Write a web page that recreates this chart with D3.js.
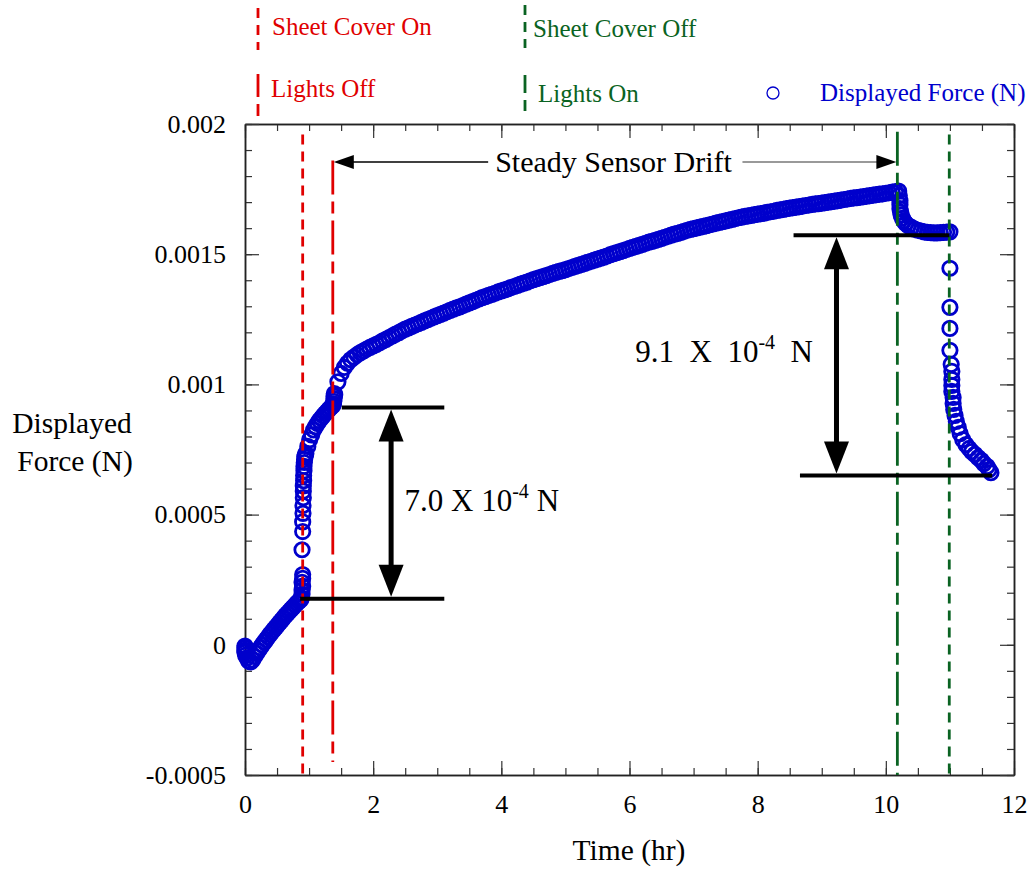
<!DOCTYPE html>
<html>
<head>
<meta charset="utf-8">
<script src="https://cdn.jsdelivr.net/npm/d3@7"></script>
<style>
  body { margin: 0; background: #fff; }
  text { font-family: "Liberation Serif", "Times New Roman", serif; white-space: pre; }
</style>
</head>
<body>
<div id="chart"></div>
<script>
// force values are in micro-newtons (1e-6 N), time in hours

// first points stacked at t = 0
const startTime = [0, 0, 0, 0, 0.01];
const startForce = [-5, -12, -20, -30, -40];

// ramp before the sheet cover goes on, every 0.03 hr from t = 0
const rampStart = 0, rampStep = 0.03;
const rampForce = [-25, -50, -63, -66, -58, -45, -33, -22, -11, 0,
    10, 20, 30, 40, 49, 58, 67, 76, 85, 94,
    103, 112, 120, 128, 136, 144, 152, 160, 167, 173];

// jump when the sheet cover goes on
const coverOnTime = [0.88, 0.89, 0.89, 0.90, 0.89, 0.90, 0.90, 0.89, 0.90, 0.90, 0.905, 0.905,
    0.91, 0.91, 0.91, 0.915, 0.915, 0.92, 0.92, 0.925, 0.93, 0.935, 0.94];
const coverOnForce = [180, 195, 210, 225, 240, 255, 270, 365, 435, 472, 505, 535,
    565, 590, 610, 630, 650, 668, 685, 700, 712, 722, 728];

// settling until the lights go off, every 0.03 hr from 0.95
const settleStart = 0.95, settleStep = 0.03;
const settleForce = [735, 762, 788, 806, 825, 838, 850, 861, 870, 879, 888, 896, 904, 912, 918];

// step when the lights go off
const lightsOffTime = [1.38, 1.385, 1.39, 1.39, 1.395];
const lightsOffForce = [925, 935, 945, 955, 965];

// steady drift, every 0.05 hr from 1.40
const driftStart = 1.40, driftStep = 0.05;
const driftForce = [960, 1010, 1042, 1065, 1082, 1095, 1105, 1114, 1122, 1129,
    1136, 1142, 1148, 1154, 1160, 1167, 1173, 1180, 1186, 1193,
    1199, 1206, 1212, 1217, 1223, 1228, 1233, 1238, 1244, 1249,
    1254, 1259, 1264, 1269, 1274, 1279, 1284, 1289, 1294, 1298,
    1303, 1308, 1313, 1318, 1323, 1328, 1333, 1337, 1342, 1346,
    1350, 1355, 1359, 1363, 1367, 1372, 1376, 1380, 1385, 1389,
    1393, 1398, 1402, 1406, 1410, 1414, 1418, 1422, 1426, 1430,
    1434, 1437, 1441, 1445, 1449, 1453, 1457, 1461, 1465, 1469,
    1473, 1477, 1481, 1485, 1489, 1493, 1498, 1502, 1506, 1510,
    1514, 1518, 1522, 1526, 1530, 1534, 1538, 1542, 1546, 1549,
    1553, 1557, 1561, 1565, 1569, 1573, 1577, 1580, 1584, 1588,
    1592, 1595, 1598, 1601, 1604, 1607, 1610, 1613, 1616, 1619,
    1622, 1625, 1628, 1631, 1634, 1637, 1640, 1642, 1645, 1647,
    1649, 1652, 1654, 1656, 1658, 1661, 1663, 1665, 1668, 1670,
    1672, 1675, 1677, 1679, 1681, 1683, 1685, 1687, 1689, 1691,
    1693, 1694, 1696, 1698, 1700, 1702, 1704, 1706, 1708, 1710,
    1712, 1714, 1716, 1717, 1719, 1721, 1723, 1725, 1727, 1729,
    1731, 1732, 1734, 1736, 1738, 1740, 1742];

// drop when the lights come on
const lightsOnTime = [10.21, 10.22, 10.22, 10.22, 10.23, 10.24, 10.26, 10.28, 10.31, 10.35, 10.40];
const lightsOnForce = [1725, 1705, 1690, 1675, 1662, 1650, 1638, 1628, 1618, 1610, 1603];

// plateau, every 0.05 hr from 10.45
const plateauStart = 10.45, plateauStep = 0.05;
const plateauForce = [1596, 1592, 1589, 1586, 1584, 1583, 1582, 1582, 1583, 1584, 1585, 1586];

// drop when the sheet cover comes off
const coverOffTime = [11.00, 11.00, 11.00, 11.00, 11.02, 11.03, 11.03, 11.03, 11.03, 11.05, 11.05, 11.06,
    11.08, 11.10, 11.13, 11.16, 11.20, 11.25, 11.30, 11.34, 11.39, 11.44, 11.49, 11.53, 11.58, 11.61, 11.64];
const coverOffForce = [1446, 1296, 1215, 1131, 1077, 1050, 1019, 996, 973, 950, 927, 904,
    881, 858, 835, 811, 788, 769, 754, 742, 731, 719, 708, 696, 685, 673, 661];

// event lines: time, top and bottom of the line (uN)
const eventNames = ["Sheet Cover On", "Lights Off", "Lights On", "Sheet Cover Off"];
const eventTimes = [0.90, 1.37, 10.18, 10.99];
const eventTop = [1960, 1860, 1970, 1960];
const eventBottom = [-500, -450, -500, -500];

// measured steps: [t start, t end, level]
const stepLines = [[1.51, 3.11, 911], [0.86, 3.11, 177], [8.56, 10.99, 1573], [8.66, 11.66, 650]];
const stepArrowTime = [2.28, 9.23];
const stepArrowTop = [911, 1573];
const stepArrowBottom = [177, 650];
const stepLabels = ["7.0 X 10", "9.1  X  10"];
const stepUnits = [" N", "  N"];
const stepLabelTime = [2.49, 6.09];
const stepLabelForce = [512, 1085];

// drift arrow
const driftArrowFrom = 1.37, driftArrowTo = 10.18, driftArrowLevel = 1854, driftLabelTime = 5.75;

const xMajor = [0, 2, 4, 6, 8, 10, 12];
const yMajor = [-0.0005, 0, 0.0005, 0.001, 0.0015, 0.002];
const yLabels = ["-0.0005", "0", "0.0005", "0.001", "0.0015", "0.002"];

const red = "#e00000", green = "#0a6322", blue = "#0000cc";
const shortDash = "10,7", longDash = "34,7,12,7";

// ---- drawing
const svg = d3.select("#chart").append("svg")
    .attr("width", 1034)
    .attr("height", 871);

const x = d3.scaleLinear().domain([0, 12]).range([245, 1014]);
const y = d3.scaleLinear().domain([-0.0005, 0.002]).range([775, 124]);
const yu = v => y(v * 1e-6);

function grid(start, step, values) {
    return values.map((f, i) => ({t: start + i * step, f: f}));
}
function pairs(times, values) {
    return values.map((f, i) => ({t: times[i], f: f}));
}

const points = [].concat(
    pairs(startTime, startForce),
    grid(rampStart, rampStep, rampForce),
    pairs(coverOnTime, coverOnForce),
    grid(settleStart, settleStep, settleForce),
    pairs(lightsOffTime, lightsOffForce),
    grid(driftStart, driftStep, driftForce),
    pairs(lightsOnTime, lightsOnForce),
    grid(plateauStart, plateauStep, plateauForce),
    pairs(coverOffTime, coverOffForce)
);

// axes, ticks pointing inward on all four sides
function styleAxis(g) {
    g.selectAll("path").attr("stroke", "#222").attr("stroke-width", 1.5);
    g.selectAll("line").attr("stroke", "#333").attr("stroke-width", 1.2);
    g.selectAll("text").attr("fill", "#000").style("font-size", "26px")
        .style("font-family", "'Liberation Serif', serif");
}
const xMinor = d3.range(0, 12.01, 0.5);
const yMinor = d3.range(-5, 20.01, 1).map(d => d * 0.0001);

svg.append("g").attr("transform", "translate(0,775)")
    .call(d3.axisBottom(x).tickValues(xMinor).tickSize(-7).tickSizeOuter(0).tickFormat(""))
    .call(styleAxis);
svg.append("g").attr("transform", "translate(0,775)")
    .call(d3.axisBottom(x).tickValues(xMajor).tickSize(-14).tickSizeOuter(0).tickPadding(20).tickFormat(d3.format("d")))
    .call(styleAxis);
svg.append("g").attr("transform", "translate(0,124)")
    .call(d3.axisTop(x).tickValues(xMinor).tickSize(-7).tickSizeOuter(0).tickFormat(""))
    .call(styleAxis);
svg.append("g").attr("transform", "translate(0,124)")
    .call(d3.axisTop(x).tickValues(xMajor).tickSize(-14).tickSizeOuter(0).tickFormat(""))
    .call(styleAxis);
svg.append("g").attr("transform", "translate(245,0)")
    .call(d3.axisLeft(y).tickValues(yMinor).tickSize(-7).tickSizeOuter(0).tickFormat(""))
    .call(styleAxis);
svg.append("g").attr("transform", "translate(245,0)")
    .call(d3.axisLeft(y).tickValues(yMajor).tickSize(-14).tickSizeOuter(0).tickPadding(19)
        .tickFormat((d, i) => yLabels[i]))
    .call(styleAxis);
svg.append("g").attr("transform", "translate(1014,0)")
    .call(d3.axisRight(y).tickValues(yMinor).tickSize(-7).tickSizeOuter(0).tickFormat(""))
    .call(styleAxis);
svg.append("g").attr("transform", "translate(1014,0)")
    .call(d3.axisRight(y).tickValues(yMajor).tickSize(-14).tickSizeOuter(0).tickFormat(""))
    .call(styleAxis);

// axis titles
svg.append("text").attr("x", 629).attr("y", 860).attr("text-anchor", "middle")
    .style("font-size", "29.5px").text("Time (hr)");
svg.append("text").attr("x", 72).attr("y", 433).attr("text-anchor", "middle")
    .style("font-size", "29.5px").text("Displayed");
svg.append("text").attr("x", 75).attr("y", 471).attr("text-anchor", "middle")
    .style("font-size", "29.5px").text("Force (N)");

// data points (the logger's dense sampling merges them into a solid band)
svg.append("g").selectAll("circle")
    .data(points)
    .enter()
    .append("circle")
    .attr("cx", d => x(d.t))
    .attr("cy", d => yu(d.f))
    .attr("r", 7.2)
    .attr("fill", "none")
    .attr("stroke", blue)
    .attr("stroke-width", 2.8);

// event lines
const eventColor = [red, red, green, green];
const eventDash = [shortDash, longDash, longDash, shortDash];
svg.append("g").selectAll("line")
    .data(eventTimes)
    .enter()
    .append("line")
    .attr("x1", d => x(d)).attr("x2", d => x(d))
    .attr("y1", (d, i) => yu(eventTop[i]))
    .attr("y2", (d, i) => yu(eventBottom[i]))
    .attr("stroke", (d, i) => eventColor[i])
    .attr("stroke-width", 2.8)
    .attr("stroke-dasharray", (d, i) => eventDash[i]);

// step marker lines
svg.append("g").selectAll("line")
    .data(stepLines)
    .enter()
    .append("line")
    .attr("x1", d => x(d[0])).attr("x2", d => x(d[1]))
    .attr("y1", d => yu(d[2])).attr("y2", d => yu(d[2]))
    .attr("stroke", "#000")
    .attr("stroke-width", 4);

// double arrows between the step levels
function arrowHead(px, py, dir, len, half) {
    // dir: +1 points down, -1 points up
    return `M${px},${py}L${px - half},${py - dir * len}L${px + half},${py - dir * len}Z`;
}
function arrowHeadH(px, py, dir, len, half) {
    // dir: +1 points right, -1 points left
    return `M${px},${py}L${px - dir * len},${py - half}L${px - dir * len},${py + half}Z`;
}
stepArrowTime.forEach((t, i) => {
    const px = x(t), top = yu(stepArrowTop[i]), bot = yu(stepArrowBottom[i]);
    svg.append("line").attr("x1", px).attr("x2", px)
        .attr("y1", top + 20).attr("y2", bot - 20)
        .attr("stroke", "#000").attr("stroke-width", 5);
    svg.append("path").attr("d", arrowHead(px, top + 2, -1, 32, 12.5)).attr("fill", "#000");
    svg.append("path").attr("d", arrowHead(px, bot - 2, 1, 32, 12.5)).attr("fill", "#000");

    const label = svg.append("text")
        .attr("x", x(stepLabelTime[i]))
        .attr("y", yu(stepLabelForce[i]))
        .style("font-size", "31px");
    label.append("tspan").text(stepLabels[i]);
    label.append("tspan").attr("dy", -13).style("font-size", "20px").text("-4");
    label.append("tspan").attr("dy", 13).text(stepUnits[i]);
});

// steady drift arrow
const dy0 = yu(driftArrowLevel);
const driftText = svg.append("text")
    .attr("x", x(driftLabelTime)).attr("y", dy0 + 10)
    .attr("text-anchor", "middle")
    .style("font-size", "30px")
    .text("Steady Sensor Drift");
const bb = driftText.node().getBBox();
svg.append("line").attr("x1", x(driftArrowFrom) + 15).attr("x2", bb.x - 7)
    .attr("y1", dy0).attr("y2", dy0).attr("stroke", "#000").attr("stroke-width", 1.5);
svg.append("line").attr("x1", bb.x + bb.width + 10).attr("x2", x(driftArrowTo) - 15)
    .attr("y1", dy0).attr("y2", dy0).attr("stroke", "#777").attr("stroke-width", 1.5);
svg.append("path").attr("d", arrowHeadH(x(driftArrowFrom) + 1, dy0, -1, 20, 7)).attr("fill", "#000");
svg.append("path").attr("d", arrowHeadH(x(driftArrowTo) - 1, dy0, 1, 20, 7)).attr("fill", "#000");

// legend above the plot
const legendX = [258, 258, 525, 525];
const legendY = [8, 74, 75, 5];
const legendLen = [42, 42, 36, 43];
const legendOffset = [0, 11, 16, 0];
const legendTextX = [272, 271, 538, 533];
const legendTextY = [35, 97, 102, 37];
eventNames.forEach((name, i) => {
    svg.append("line")
        .attr("x1", legendX[i]).attr("x2", legendX[i])
        .attr("y1", legendY[i]).attr("y2", legendY[i] + legendLen[i])
        .attr("stroke", eventColor[i]).attr("stroke-width", 2.8)
        .attr("stroke-dasharray", eventDash[i])
        .attr("stroke-dashoffset", legendOffset[i]);
    svg.append("text")
        .attr("x", legendTextX[i]).attr("y", legendTextY[i])
        .attr("fill", eventColor[i])
        .style("font-size", "25px")
        .text(name);
});
svg.append("circle").attr("cx", 773).attr("cy", 93).attr("r", 6)
    .attr("fill", "none").attr("stroke", blue).attr("stroke-width", 1.3);
svg.append("text").attr("x", 820).attr("y", 101).attr("fill", blue)
    .style("font-size", "25px").text("Displayed Force (N)");
</script>
</body>
</html>
